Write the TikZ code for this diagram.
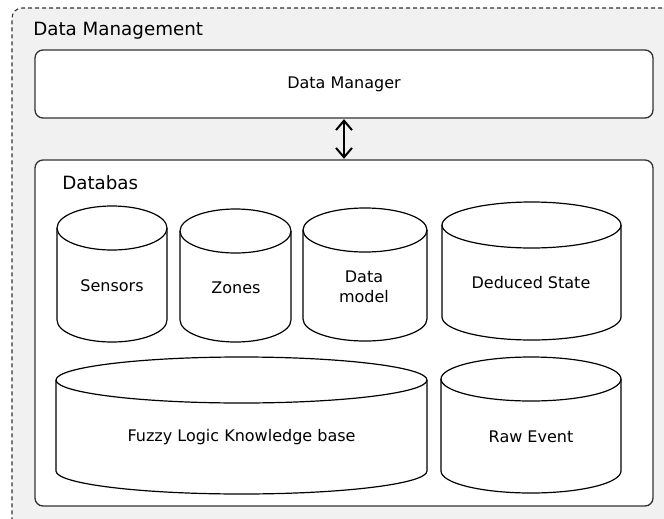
\documentclass[tikz,border=0pt]{standalone}
\usepackage{fontspec}
\setmainfont{DejaVu Sans}
\usetikzlibrary{arrows.meta}
\definecolor{bggray}{HTML}{F1F1F1}
\definecolor{edge}{HTML}{333333}
\tikzset{
  outerbox/.style={draw=edge, dash pattern=on 3pt off 2.25pt, fill=bggray, rounded corners=7.5pt, line width=0.8pt, inner sep=0pt, outer sep=0pt},
  panel/.style={draw=edge, fill=white, rounded corners=6pt, line width=1pt, inner sep=0pt, outer sep=0pt},
  cyl/.style={draw=black, fill=white, line width=0.9pt},
  lbl/.style={font=\fontsize{12}{15}\selectfont, align=center, inner sep=0pt},
  ttl/.style={font=\fontsize{13.7}{16}\selectfont, inner sep=0pt, anchor=base west},
  dbl/.style={{Straight Barb[length=7pt,width=12pt,line width=1.5pt]}-{Straight Barb[length=7pt,width=12pt,line width=1.5pt]}, line width=1.6pt, black}
}
\newcommand\dbcyl[8]{%
  \pgfmathsetmacro\cXm{(#2+#3)/2}%
  \pgfmathsetmacro\cRx{(#3-#2)/2}%
  \pgfmathsetmacro\cKx{0.5523*\cRx}%
  \pgfmathsetmacro\cKy{0.5523*#6}%
  \pgfmathsetmacro\cTa{#4+#6}%
  \pgfmathsetmacro\cBa{#5-#6}%
  \pgfmathsetmacro\cTb{\cTa+#6}%
  \draw[cyl] (#2,\cTa) -- (#2,\cBa)
    .. controls (#2,\cBa+\cKy) and (\cXm-\cKx,#5) .. (\cXm,#5)
    .. controls (\cXm+\cKx,#5) and (#3,\cBa+\cKy) .. (#3,\cBa)
    -- (#3,\cTa)
    .. controls (#3,\cTa-\cKy) and (\cXm+\cKx,#4) .. (\cXm,#4)
    .. controls (\cXm-\cKx,#4) and (#2,\cTa-\cKy) .. (#2,\cTa) -- cycle;
  \draw[cyl, fill=none] (#2,\cTa)
    .. controls (#2,\cTa+\cKy) and (\cXm-\cKx,\cTb) .. (\cXm,\cTb)
    .. controls (\cXm+\cKx,\cTb) and (#3,\cTa+\cKy) .. (#3,\cTa);
  \node[lbl] (#1) at (#7) {#8};
}
\begin{document}
\begin{tikzpicture}[x=0.75pt, y=-0.75pt]
\useasboundingbox (0,0) rectangle (664,518);
\clip (0,0) rectangle (664,518);
\fill[white] (0,0) rectangle (664,518);
% outer dashed container
\node[outerbox, minimum width=516pt, minimum height=414pt] (mgmt) at (356,284) {};
\node[ttl] (mgmtlbl) at (33,35) {Data Management};
% data manager
\node[panel, minimum width=463.5pt, minimum height=51pt, font=\fontsize{12}{15}\selectfont] (dm) at (344,84) {Data Manager};
% database panel
\node[panel, minimum width=463.5pt, minimum height=259.5pt] (db) at (344,333) {};
\node[ttl] (dblbl) at (62,189) {Databas};
% arrow
\draw[dbl, shorten <=0.9pt, shorten >=0.9pt] (dm.south) -- (db.north);
% cylinders
\dbcyl{sens}{57}{167}{206}{342}{22}{112,286}{Sensors}
\dbcyl{zones}{180}{291}{209}{342}{22}{236,288}{Zones}
\dbcyl{dmodel}{303}{427}{208}{341}{22}{364,287}{Data\\model}
\dbcyl{deduced}{442}{621}{202}{340}{23}{531,283}{Deduced State}
\dbcyl{fuzzy}{56}{427}{357}{494}{23}{241.5,437}{Fuzzy Logic Knowledge base}
\dbcyl{raw}{441}{621}{357}{493}{22}{531,437}{Raw Event}
\end{tikzpicture}
\end{document}
